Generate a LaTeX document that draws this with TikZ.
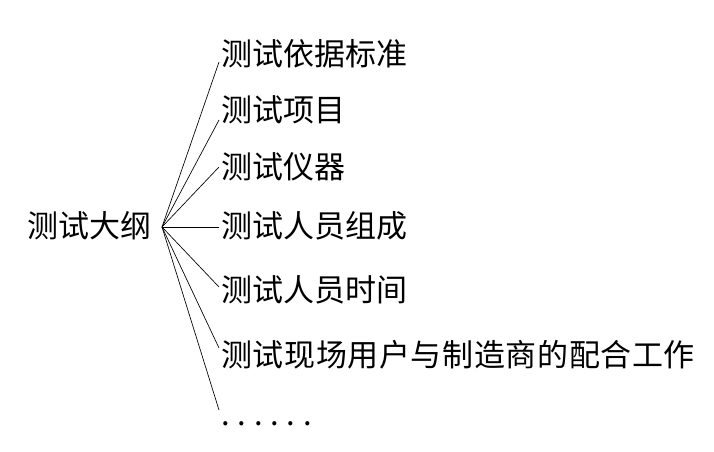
\documentclass[tikz,border=0pt]{standalone}
\usepackage{fontspec}
\newfontfamily\cjk{Noto Sans CJK SC}
\usetikzlibrary{positioning}

\begin{document}
\begin{tikzpicture}[x=0.75pt, y=-0.75pt,
        item/.style={anchor=west, inner sep=1.5pt, text height=15pt, text depth=0pt,
            font=\cjk\fontsize{23.25}{28}\selectfont},
        link/.style={line width=0.5pt}]
    \useasboundingbox (0,0) rectangle (714,451);

    % --- Root ---
    \node[item, anchor=east, inner xsep=8pt] (root) at (162,227) {测试大纲};

    % --- Branches ---
    \node[item] (basis) at (219,55) {测试依据标准};
    \node[item] (items) at (219,111) {测试项目};
    \node[item] (instr) at (219,168) {测试仪器};
    \node[item] (staff) at (219,227) {测试人员组成};
    \node[item] (times) at (219,291) {测试人员时间};
    \node[item] (coop) at (219,356) {\addfontfeature{LetterSpace=2}测试现场用户与制造商的配合工作};
    \node[item] (more) at (219,415) {\addfontfeature{LetterSpace=25}......};

    % Fan of links
    \foreach \n/\s in {basis/-5.25, items/-6.75, instr/0.75, staff/0, times/3, coop/6, more/3.75}
        \draw[link] (root.east) -- ([yshift=\s pt]\n.west);
\end{tikzpicture}
\end{document}
